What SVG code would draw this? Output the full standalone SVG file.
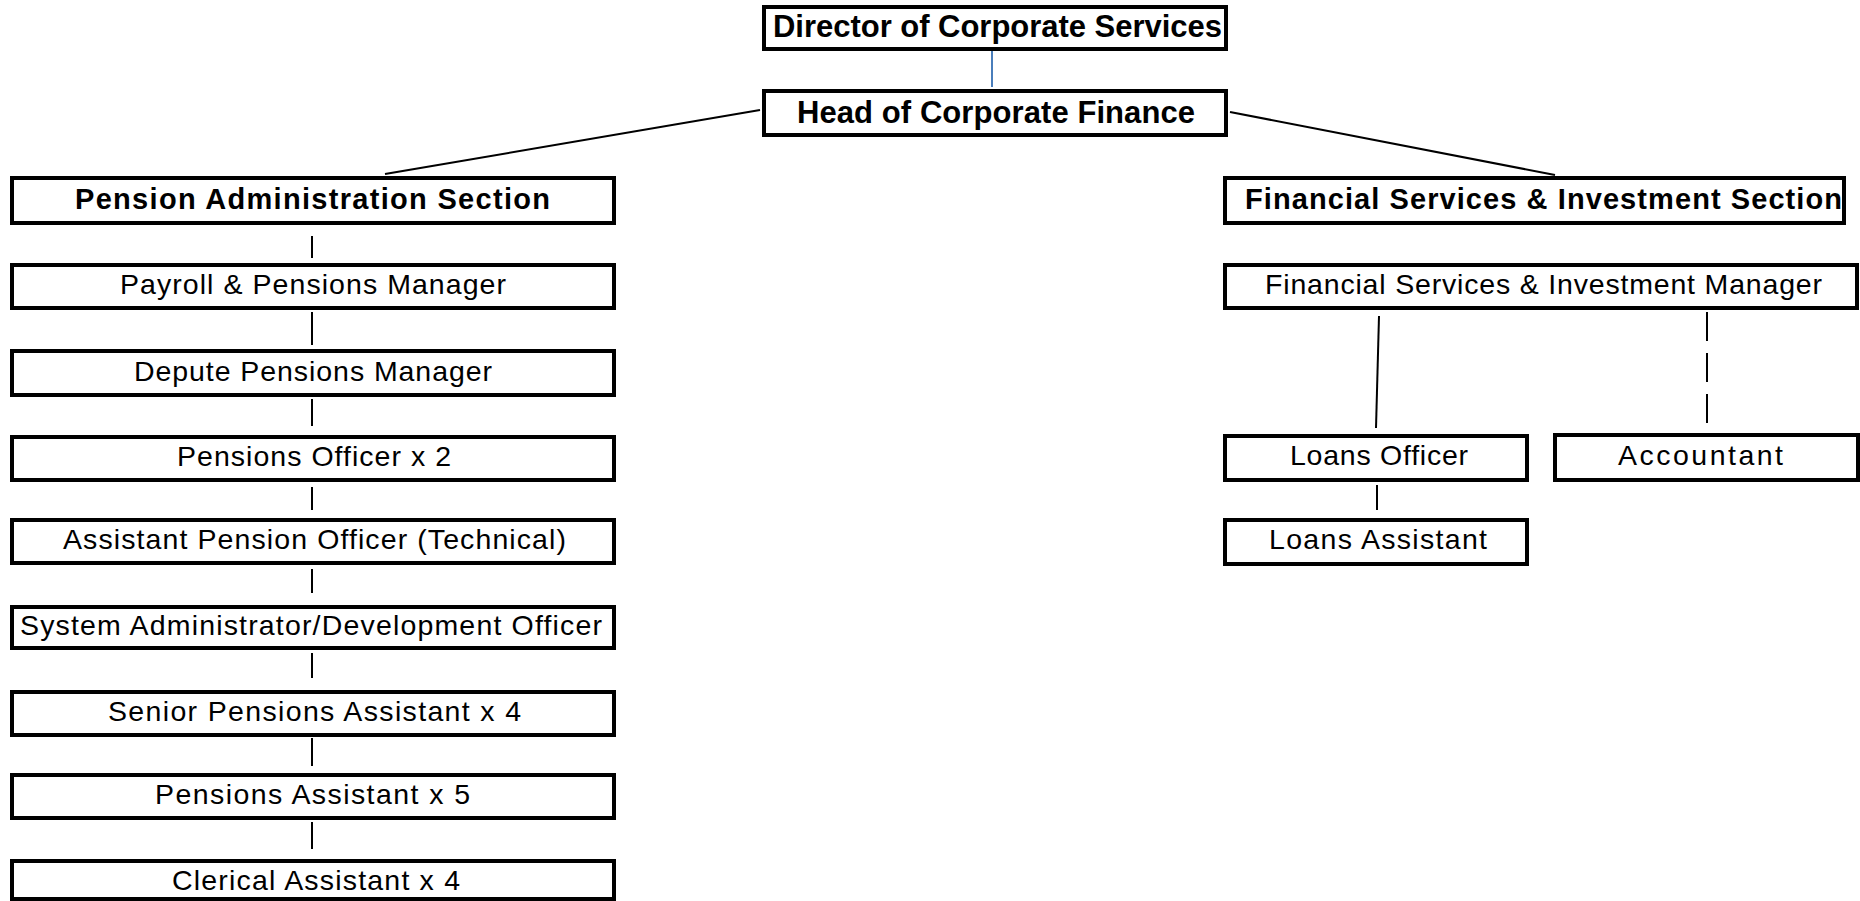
<svg xmlns="http://www.w3.org/2000/svg" width="1860" height="901" viewBox="0 0 1860 901">
<style>
.box{fill:#fff;stroke:#000;stroke-width:4}
.t{font-family:"Liberation Sans",Arial,sans-serif;font-size:28.5px;fill:#000;text-anchor:middle}
.tb{font-family:"Liberation Sans",Arial,sans-serif;font-size:29px;font-weight:bold;fill:#000;text-anchor:middle}
.tt{font-family:"Liberation Sans",Arial,sans-serif;font-size:31px;font-weight:bold;fill:#000;text-anchor:middle}
.ln{stroke:#000;stroke-width:2;fill:none}
.dash{stroke:#000;stroke-width:2;fill:none;stroke-dasharray:29 12}
.blue{stroke:#4a7ebb;stroke-width:2;fill:none}
</style>
<rect width="1860" height="901" fill="#fff"/>
<g id="connectors">
<line class="blue" x1="992" y1="51" x2="992" y2="87"/>
<line class="ln" x1="760" y1="110" x2="385" y2="174"/>
<line class="ln" x1="1230" y1="112" x2="1555" y2="175"/>
<line class="ln" x1="312" y1="236" x2="312" y2="258"/>
<line class="ln" x1="312" y1="312" x2="312" y2="345"/>
<line class="ln" x1="312" y1="399" x2="312" y2="426"/>
<line class="ln" x1="312" y1="487" x2="312" y2="510"/>
<line class="ln" x1="312" y1="569" x2="312" y2="593"/>
<line class="ln" x1="312" y1="653" x2="312" y2="678"/>
<line class="ln" x1="312" y1="738" x2="312" y2="766"/>
<line class="ln" x1="312" y1="822" x2="312" y2="849"/>
<line class="ln" x1="1379" y1="316" x2="1376" y2="428"/>
<line class="dash" x1="1707" y1="312" x2="1707" y2="428"/>
<line class="ln" x1="1377" y1="485" x2="1377" y2="510"/>
</g>
<g id="director"><rect class="box" x="764" y="7" width="462" height="42"/><text class="tt" x="997.5" y="37" textLength="449" lengthAdjust="spacing">Director of Corporate Services</text></g>
<g id="head"><rect class="box" x="764" y="91" width="462" height="44"/><text class="tt" x="996" y="123" textLength="398" lengthAdjust="spacing">Head of Corporate Finance</text></g>
<g id="pension-section"><rect class="box" x="12" y="178" width="602" height="45"/><text class="tb" x="312.5" y="209" textLength="475" lengthAdjust="spacing">Pension Administration  Section</text></g>
<g id="payroll"><rect class="box" x="12" y="265" width="602" height="43"/><text class="t" x="313" y="294" textLength="386" lengthAdjust="spacing">Payroll &amp; Pensions Manager</text></g>
<g id="depute"><rect class="box" x="12" y="351" width="602" height="44"/><text class="t" x="313" y="381" textLength="358" lengthAdjust="spacing">Depute Pensions Manager</text></g>
<g id="pensions-officer"><rect class="box" x="12" y="437" width="602" height="43"/><text class="t" x="314" y="466" textLength="274" lengthAdjust="spacing">Pensions Officer x 2</text></g>
<g id="assistant-pension-officer"><rect class="box" x="12" y="520" width="602" height="43"/><text class="t" x="314.5" y="549" textLength="503" lengthAdjust="spacing">Assistant Pension Officer (Technical)</text></g>
<g id="system-admin"><rect class="box" x="12" y="607" width="602" height="41"/><text class="t" x="311" y="635" textLength="582" lengthAdjust="spacing">System Administrator/Development Officer</text></g>
<g id="senior-pensions-assistant"><rect class="box" x="12" y="692" width="602" height="43"/><text class="t" x="314.5" y="721" textLength="413" lengthAdjust="spacing">Senior Pensions Assistant x 4</text></g>
<g id="pensions-assistant"><rect class="box" x="12" y="775" width="602" height="43"/><text class="t" x="312.5" y="804" textLength="315" lengthAdjust="spacing">Pensions Assistant x 5</text></g>
<g id="clerical-assistant"><rect class="box" x="12" y="861" width="602" height="38"/><text class="t" x="316" y="890" textLength="288" lengthAdjust="spacing">Clerical Assistant x 4</text></g>
<g id="fsi-section"><rect class="box" x="1225" y="178" width="619" height="45"/><text class="tb" x="1543.5" y="209" textLength="597" lengthAdjust="spacing">Financial Services &amp; Investment Section</text></g>
<g id="fsi-manager"><rect class="box" x="1225" y="265" width="632" height="43"/><text class="t" x="1543.5" y="294" textLength="557" lengthAdjust="spacing">Financial Services &amp; Investment Manager</text></g>
<g id="loans-officer"><rect class="box" x="1225" y="436" width="302" height="44"/><text class="t" x="1379" y="465" textLength="178" lengthAdjust="spacing">Loans Officer</text></g>
<g id="accountant"><rect class="box" x="1555" y="435" width="303" height="45"/><text class="t" x="1700.5" y="465" textLength="165" lengthAdjust="spacing">Accountant</text></g>
<g id="loans-assistant"><rect class="box" x="1225" y="520" width="302" height="44"/><text class="t" x="1378" y="549" textLength="218" lengthAdjust="spacing">Loans Assistant</text></g>
</svg>
